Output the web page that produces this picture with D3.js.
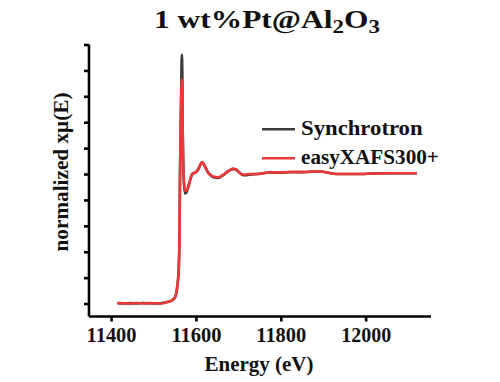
<!DOCTYPE html>
<html>
<head>
<meta charset="utf-8">
<script src="https://cdn.jsdelivr.net/npm/d3@7/dist/d3.min.js"></script>
<style>
  html, body { margin: 0; padding: 0; background: #fff; }
  svg { display: block; }
  text { font-family: "Liberation Serif", "Times New Roman", serif; font-weight: bold; fill: #111; }
</style>
</head>
<body>
<svg id="chart" width="500" height="382"></svg>
<script>
// ---- data ----
const energy = [11415, 11430, 11445, 11460, 11475, 11490, 11505, 11520, 11530, 11537, 11544, 11551, 11556, 11559.5, 11561.4, 11562.5, 11564, 11565, 11566, 11567, 11568, 11569, 11570, 11571.5, 11574, 11577, 11582, 11586, 11590, 11594, 11598, 11602, 11606, 11610, 11615, 11621, 11629, 11635, 11641, 11653, 11665, 11673, 11680, 11688, 11694, 11700, 11708, 11716, 11727, 11745, 11775, 11800, 11822, 11850, 11892, 11932, 11960, 11987, 12020, 12057, 12090, 12121];
const synchrotron = [0.002, 0.0, 0.003, 0.0, 0.004, 0.002, 0.0, 0.004, 0.01, 0.015, 0.025, 0.05, 0.13, 0.27, 0.55, 1.0, 1.35, 1.6, 1.82, 1.92, 1.75, 1.3, 1.1, 0.95, 0.85, 0.855, 0.9, 0.95, 0.99, 1.005, 1.01, 1.02, 1.04, 1.07, 1.09, 1.06, 1.01, 0.99, 0.975, 0.97, 0.993, 1.015, 1.03, 1.04, 1.035, 1.02, 0.996, 0.99, 0.996, 1.0, 1.012, 1.01, 1.015, 1.015, 1.02, 1.0, 1.0, 1.0, 1.005, 1.006, 1.006, 1.006];
const easyXAFS = [0.004, 0.002, 0.0, 0.004, 0.0, 0.003, 0.002, 0.0, 0.01, 0.015, 0.025, 0.05, 0.13, 0.27, 0.55, 1.0, 1.35, 1.52, 1.68, 1.73, 1.65, 1.3, 1.1, 0.96, 0.87, 0.87, 0.906, 0.95, 0.996, 1.008, 1.01, 1.02, 1.04, 1.07, 1.09, 1.06, 1.01, 0.99, 0.98, 0.975, 0.996, 1.015, 1.03, 1.04, 1.035, 1.02, 0.996, 0.996, 1.0, 1.0, 1.014, 1.012, 1.016, 1.015, 1.02, 1.0, 1.0, 1.0, 1.004, 1.006, 1.006, 1.006];
const xTicks = [11400, 11600, 11800, 12000];
const yTicks = [0, 0.2, 0.4, 0.6, 0.8, 1.0, 1.2, 1.4, 1.6, 1.8, 2.0];
const seriesNames = ["Synchrotron", "easyXAFS300+"];
const seriesColors = ["#3a3a3a", "#f03838"];

// ---- chart ----
const svg = d3.select("#chart");
const x = d3.scaleLinear().domain([11348, 12154]).range([89, 431]);
const y = d3.scaleLinear().domain([-0.1, 2.0]).range([316.5, 44.5]);

// stretch a text horizontally (along its own x) to a target width, around its anchor x
function fitWidth(sel, target, ax, extra) {
  const w = sel.node().getBBox().width;
  const s = target / w;
  sel.attr("transform", (extra || "") + `translate(${ax},0) scale(${s},1) translate(${-ax},0)`);
}

// axes
const xAxis = d3.axisBottom(x).tickValues(xTicks).tickSize(5).tickPadding(6).tickFormat(d3.format("d"));
const gx = svg.append("g").attr("transform", "translate(0,316.5)").call(xAxis);
gx.select(".domain").attr("d", `M${x.range()[0]},0H${x.range()[1]}`);
gx.selectAll("path, line").attr("stroke", "#000").attr("stroke-width", 2.6);
gx.selectAll("text").style("font-size", "20px").attr("fill", "#111").attr("dy", "0.72em")
  .each(function () { fitWidth(d3.select(this), 50, 0); });

const yAxis = d3.axisLeft(y).tickValues(yTicks).tickSize(5).tickFormat("");
const gy = svg.append("g").attr("transform", "translate(89,0)").call(yAxis);
gy.select(".domain").attr("d", `M0,${y.range()[0]}V${y.range()[1]}`);
gy.selectAll("path, line").attr("stroke", "#000").attr("stroke-width", 2.6);

// lines
const line = d3.line().x((d, i) => x(energy[i])).y(d => y(d)).curve(d3.curveMonotoneX);
[synchrotron, easyXAFS].forEach((s, k) => {
  svg.append("path").datum(s)
    .attr("d", line)
    .attr("fill", "none")
    .attr("stroke", seriesColors[k])
    .attr("stroke-width", 2.6)
    .attr("stroke-linejoin", "round");
});

// legend
const legY = [129.3, 158.3];
const legW = [122, 138];
seriesNames.forEach((name, k) => {
  svg.append("line").attr("x1", 262).attr("x2", 295).attr("y1", legY[k]).attr("y2", legY[k])
    .attr("stroke", seriesColors[k]).attr("stroke-width", 2.6);
  const t = svg.append("text").attr("x", 301).attr("y", legY[k] + 5.5).style("font-size", "21px").text(name);
  fitWidth(t, legW[k], 301);
});

// title
const title = svg.append("text").attr("x", 267).attr("y", 28).attr("text-anchor", "middle").style("font-size", "26px");
title.append("tspan").text("1 wt%Pt@Al");
title.append("tspan").attr("dy", 5).style("font-size", "19px").text("2");
title.append("tspan").attr("dy", -5).text("O");
title.append("tspan").attr("dy", 5).style("font-size", "19px").text("3");
fitWidth(title, 226, 267);

// axis titles
const xt = svg.append("text").attr("x", 259).attr("y", 371).attr("text-anchor", "middle").style("font-size", "20px").text("Energy (eV)");
fitWidth(xt, 109, 259);
const yt = svg.append("text").attr("x", 0).attr("y", 0).attr("text-anchor", "middle").style("font-size", "20px").text("normalized xμ(E)");
fitWidth(yt, 159, 0, "translate(68,172) rotate(-90) ");
</script>
</body>
</html>
